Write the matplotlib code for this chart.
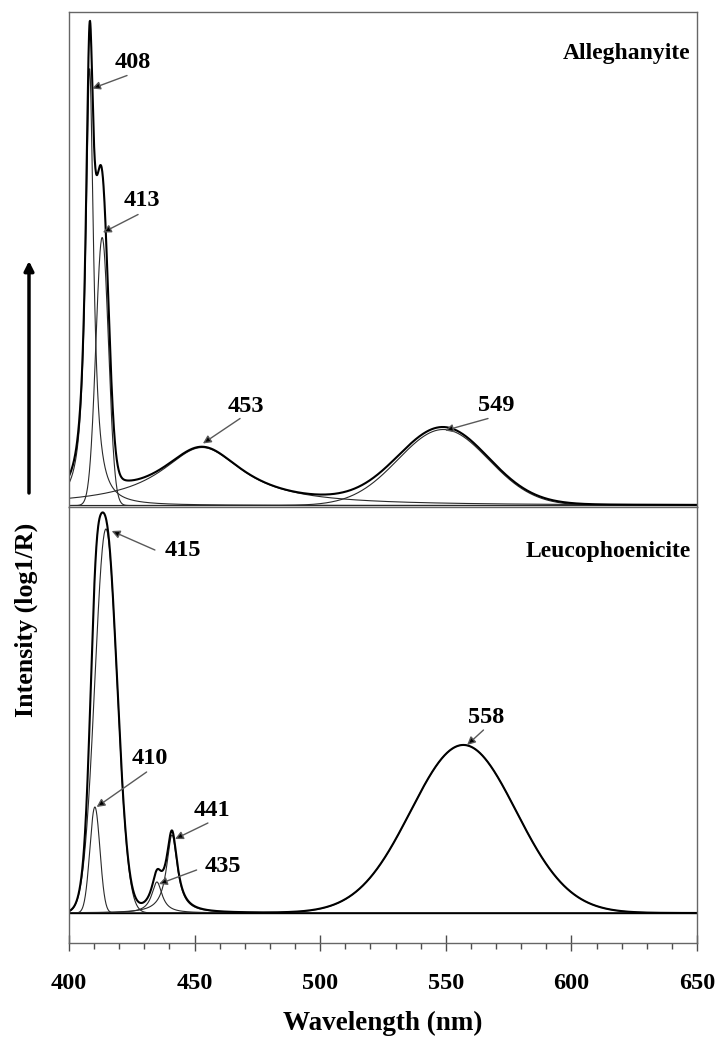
"""Vis-NIR band fits for alleghanyite and leucophoenicite (two stacked panels)."""

import matplotlib
matplotlib.use("Agg")
import matplotlib.pyplot as plt
import numpy as np

plt.rcParams["font.family"] = ["Liberation Serif", "DejaVu Serif"]
plt.rcParams["font.weight"] = "bold"

# fitted bands (arbitrary intensity units), shape: G = gaussian, L = lorentzian
allegh_centers = [408.2, 413.2, 453.0, 549.0]
allegh_heights = [437, 268, 58, 76]
allegh_widths = [1.9, 2.5, 20.0, 18.0]
allegh_shapes = ["L", "G", "L", "G"]

leuco_centers = [410.3, 414.7, 435.0, 441.0, 557.0]
leuco_heights = [106, 384, 31, 78, 168]
leuco_widths = [2.0, 4.4, 2.5, 2.6, 21.0]
leuco_shapes = ["G", "G", "L", "L", "G"]

# band labels: text, arrow tip, arrow tail, label position (nm, intensity)
allegh_labels = [
    ("408", (409.2, 417), (423.1, 430), (425.5, 443)),
    ("413", (413.5, 273), (427.5, 291), (429.1, 305)),
    ("453", (453.3, 62), (468.1, 87), (470.5, 99)),
    ("549", (549.7, 75), (566.8, 87), (570.0, 100)),
]
leuco_labels = [
    ("415", (417.0, 382), (434.2, 363), (445.2, 362)),
    ("410", (411.0, 106), (430.9, 141), (432.2, 154)),
    ("441", (442.2, 74), (455.3, 90), (457.1, 103)),
    ("435", (435.8, 29), (450.8, 43), (461.1, 47)),
    ("558", (558.5, 168), (565.0, 183), (566.0, 195)),
]

wl = np.linspace(400, 650, 2001)


def _band(c, h, w, shape):
    if shape == "G":
        return h * np.exp(-0.5 * ((wl - c) / w) ** 2)
    return h / (1.0 + ((wl - c) / w) ** 2)


def _panel(ax, centers, heights, widths, shapes, labels, name, name_y):
    comps = [_band(c, h, w, s) for c, h, w, s in zip(centers, heights, widths, shapes)]
    for comp in comps:
        ax.plot(wl, comp, color="#2a2a2a", lw=0.8)
    ax.plot(wl, np.sum(comps, axis=0), color="black", lw=1.5)
    for txt, tip, tail, pos in labels:
        ax.annotate("", xy=tip, xytext=tail,
                    arrowprops=dict(arrowstyle="-|>", ec="0.35", fc="black",
                                    lw=1.0, mutation_scale=12,
                                    shrinkA=0, shrinkB=0))
        ax.text(pos[0], pos[1], txt, ha="center", va="center",
                fontsize=17.5, fontweight="bold")
    ax.text(647.5, name_y, name, ha="right", va="center",
            fontsize=17, fontweight="bold")
    ax.set_xlim(400, 650)
    for sp in ax.spines.values():
        sp.set_color("0.4")
        sp.set_linewidth(1.0)


fig = plt.figure(figsize=(7.21, 10.45), dpi=100)
W, H = 721, 1045
ax_top = fig.add_axes([69 / W, 1 - 507 / H, 628 / W, 495 / H])
ax_bot = fig.add_axes([69 / W, 1 - 943 / H, 628 / W, 436 / H])

_panel(ax_top, allegh_centers, allegh_heights, allegh_widths, allegh_shapes,
       allegh_labels, "Alleghanyite", 452)
ax_top.set_ylim(-1.5, 493.5)
ax_top.set_xticks([])
ax_top.set_yticks([])

_panel(ax_bot, leuco_centers, leuco_heights, leuco_widths, leuco_shapes,
       leuco_labels, "Leucophoenicite", 361)
ax_bot.set_ylim(-30, 406)
ax_bot.axhline(0, color="black", lw=1.0)
ax_bot.set_yticks([])
ax_bot.set_xticks(np.arange(400, 651, 50))
ax_bot.set_xticks(np.arange(400, 651, 10), minor=True)
ax_bot.tick_params(axis="x", which="major", direction="inout", length=11,
                   width=1.0, color="0.3", pad=16, labelsize=17.5)
ax_bot.tick_params(axis="x", which="minor", direction="out", length=4.3,
                   width=1.0, color="0.3")
ax_bot.set_xlabel("Wavelength (nm)", fontsize=19.5, fontweight="bold", labelpad=12)

fig.text(26 / W, 1 - 620 / H, "Intensity (log1/R)", rotation=90,
         ha="center", va="center", fontsize=18.7, fontweight="bold")
ax_bot.annotate("", xy=(29, H - 261), xytext=(29, H - 493),
                xycoords="figure pixels", textcoords="figure pixels",
                annotation_clip=False,
                arrowprops=dict(arrowstyle="-|>", color="black", lw=2.5,
                                mutation_scale=14, shrinkA=0, shrinkB=0))

fig.savefig("out.png", dpi=100)
plt.close(fig)
